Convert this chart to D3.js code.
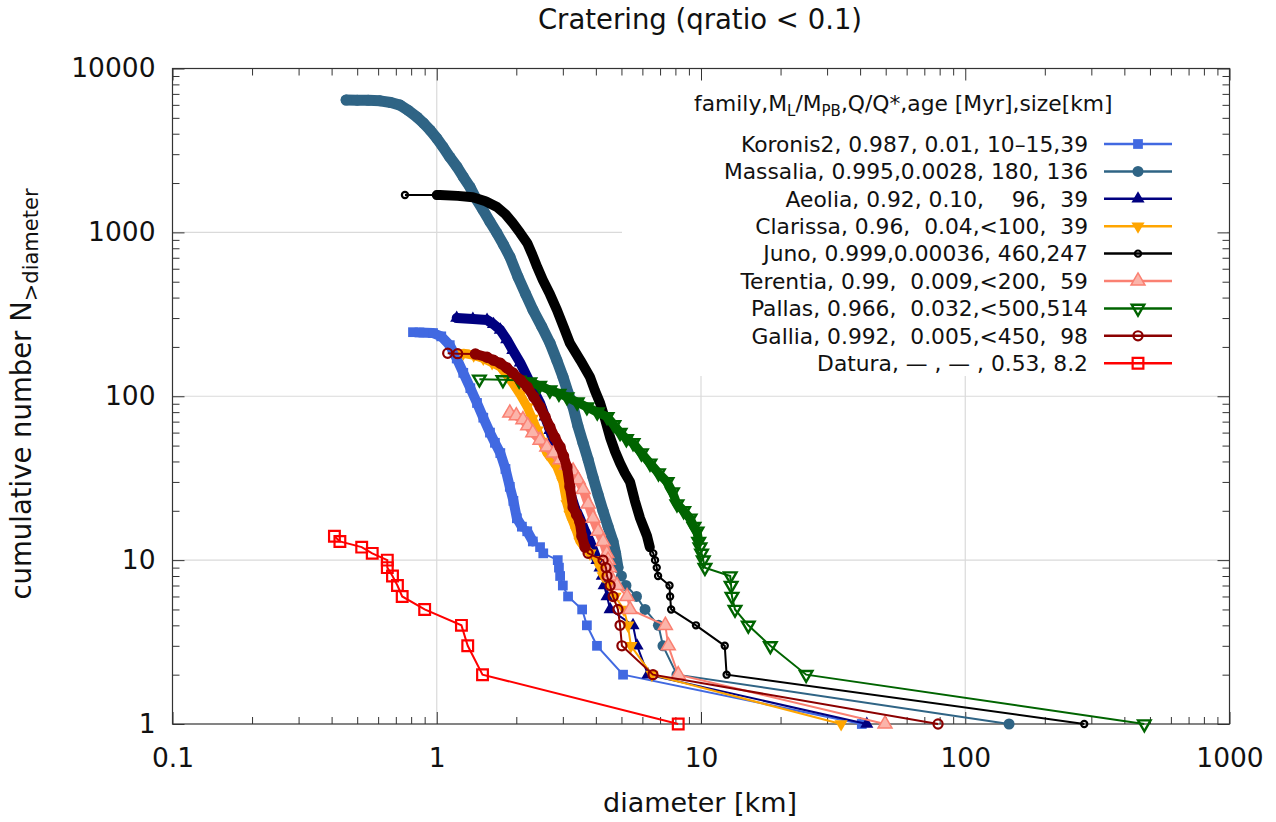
<!DOCTYPE html>
<html><head><meta charset="utf-8">
<script src="https://cdn.jsdelivr.net/npm/d3@7"></script>
<style>body{margin:0;background:#fff} text{font-family:"DejaVu Sans",sans-serif;fill:#111}</style>
</head><body><svg id="c" width="1276" height="822"></svg>
<script>
// ---- data: [diameter km, cumulative number] ----
const koronis2 = [[0.813,246],[0.86,245],[0.968,243],[1.04,232],[1.12,205],[1.19,170],[1.26,139],[1.34,112],[1.42,91],[1.50,74],[1.59,60],[1.66,52],[1.74,45],[1.82,36],[1.89,28],[1.95,23],[2.01,18],[2.10,16],[2.20,15],[2.31,13],[2.46,12],[2.53,11],[2.87,10],[2.9,9],[2.93,8],[3.0,7],[3.14,6],[3.55,5],[3.70,4],[4.04,3],[5.07,2],[40.6,1]];
const massalia = [[0.454,6420],[0.50,6410],[0.55,6400],[0.61,6350],[0.67,6200],[0.726,5980],[0.78,5550],[0.842,5050],[0.89,4650],[0.943,4210],[1.0,3750],[1.056,3320],[1.12,2880],[1.193,2510],[1.26,2180],[1.336,1890],[1.41,1600],[1.496,1370],[1.59,1160],[1.69,990],[1.79,840],[1.893,708],[2.03,534],[2.17,420],[2.313,336],[2.50,265],[2.683,211],[2.85,165],[3.005,131],[3.14,105],[3.279,86],[3.42,66],[3.576,52],[3.74,41],[3.902,32],[4.08,25],[4.257,20],[4.45,16],[4.645,13],[4.75,11],[4.85,9],[5.0,8],[5.2,7],[5.7,6],[6.14,5],[6.9,4],[7.18,3],[8.11,2],[146.5,1]];
const aeolia = [[1.19,300],[1.37,296],[1.55,292],[1.64,275],[1.74,254],[1.84,222],[1.94,191],[2.07,160],[2.20,131],[2.33,108],[2.46,91],[2.57,75],[2.68,62],[2.80,50],[2.93,41],[3.06,32],[3.19,26],[3.33,21],[3.48,18],[3.64,15],[3.80,13],[4.04,10],[4.15,9],[4.23,8],[4.3,7],[4.41,6],[4.53,5],[5.53,4],[5.73,3],[6.30,2],[42.4,1]];
const clarissa = [[1.26,183],[1.38,178],[1.50,170],[1.62,160],[1.74,151],[1.84,135],[1.94,120],[2.07,102],[2.20,86],[2.30,73],[2.40,62],[2.50,53],[2.61,45],[2.73,41],[2.85,37],[3.0,30],[3.11,22],[3.19,19],[3.28,17],[3.38,15],[3.48,13],[3.8,11],[4.04,10],[4.15,9],[4.26,8],[4.53,7],[4.73,6],[5.11,5],[5.29,4],[5.43,3],[6.52,2],[33.9,1]];
const juno = [[0.758,1690],[1.0,1690],[1.03,1688],[1.20,1670],[1.37,1640],[1.53,1550],[1.69,1430],[1.82,1290],[1.94,1140],[2.07,990],[2.20,860],[2.30,730],[2.40,614],[2.52,512],[2.68,420],[2.85,336],[3.02,265],[3.19,211],[3.50,165],[3.80,131],[3.97,108],[4.15,91],[4.34,72],[4.53,56],[4.73,46],[4.94,39],[5.15,34],[5.39,30],[5.62,23],[5.88,18],[6.05,16],[6.25,14],[6.4,12],[6.6,11],[6.7,10],[6.8,9],[6.88,8],[7.6,7],[7.64,6],[7.71,5],[9.57,4],[12.3,3],[12.5,2],[282,1]];
const terentia = [[1.89,79],[2.0,76],[2.12,72],[2.21,66],[2.31,60],[2.46,54],[2.61,49],[2.77,45],[2.93,41],[3.1,38],[3.28,35],[3.43,31],[3.58,27],[3.74,22],[3.90,18],[4.08,15],[4.26,13],[4.40,11],[4.45,10],[4.50,9],[4.53,8],[4.81,7],[5.25,6],[5.39,5],[7.33,4],[7.52,3],[8.2,2],[49.7,1]];
const pallas = [[1.45,127],[1.78,126],[2.05,125],[2.25,122],[2.45,116],[2.68,109],[2.9,104],[3.11,99],[3.40,92],[3.70,86],[4.05,80],[4.41,75],[4.68,67],[4.94,60],[5.22,55],[5.53,52],[5.95,45],[6.41,39],[6.90,34],[7.44,30],[7.80,26],[8.11,22],[8.60,20],[9.09,18],[9.40,16],[9.66,15],[9.8,13],[9.91,12],[10.05,11],[10.2,10],[10.35,9],[12.9,8],[13.0,7],[13.1,6],[13.45,5],[15.1,4],[18.3,3],[25.0,2],[476,1]];
const gallia = [[1.10,183],[1.20,182],[1.40,181],[1.55,173],[1.64,166],[1.74,159],[1.84,149],[1.94,139],[2.07,126],[2.20,114],[2.33,99],[2.46,86],[2.57,75],[2.68,65],[2.80,56],[2.93,49],[3.02,43],[3.11,37],[3.19,28],[3.28,21],[3.38,19],[3.48,17],[3.54,14],[3.64,12],[3.74,11],[4.26,10],[4.37,9],[4.41,8],[4.53,7],[4.65,6],[4.85,5],[4.94,4],[5.02,3],[6.58,2],[78.9,1]];
const datura = [[0.41,14],[0.43,13],[0.52,12],[0.57,11],[0.65,10],[0.65,9],[0.68,8],[0.71,7],[0.74,6],[0.90,5],[1.24,4],[1.31,3],[1.49,2],[8.2,1]];

const legendLabels = [
  "Koronis2, 0.987, 0.01, 10\u201315,39",
  "Massalia, 0.995,0.0028, 180, 136",
  "Aeolia, 0.92, 0.10,    96,  39",
  "Clarissa, 0.96,  0.04,<100,  39",
  "Juno, 0.999,0.00036, 460,247",
  "Terentia, 0.99,  0.009,<200,  59",
  "Pallas, 0.966,  0.032,<500,514",
  "Gallia, 0.992,  0.005,<450,  98",
  "Datura, \u2014 , \u2014 , 0.53, 8.2"
];
const xTickValues = [0.1, 1, 10, 100, 1000];
const yTickValues = [1, 10, 100, 1000, 10000];

const seriesData = [koronis2, massalia, aeolia, clarissa, juno, terentia, pallas, gallia, datura];
const styles = [
  {color:"#4169e1", sym:"square", size:95, fill:true, sw:0, band:10},
  {color:"#2f6485", sym:"circle", size:95, fill:true, sw:0, band:11},
  {color:"#000080", sym:"triangle", size:75, fill:true, sw:0, band:10},
  {color:"#ffa500", sym:"tridown", size:75, fill:true, sw:0, band:9},
  {color:"#000000", sym:"circle", size:30, fill:false, sw:2.2, band:10},
  {color:"#fa8072", sym:"triangle", size:85, fill:"#fbb4aa", sw:1.5, band:9},
  {color:"#006400", sym:"tridown", size:68, fill:false, sw:2.4, band:9},
  {color:"#8b0000", sym:"circle", size:65, fill:false, sw:2.2, band:10},
  {color:"#ff0000", sym:"square", size:115, fill:false, sw:2.2, band:0}
];

const svg = d3.select("#c");
const L = 172.5, R = 1229.5, T = 68.5, B = 724;
const x = d3.scaleLog().domain([0.1, 1000]).range([L, R]);
const y = d3.scaleLog().domain([1, 10000]).range([B, T]);

function minorTicks(dom){
  const out=[]; for(let e=Math.log10(dom[0]); e<Math.log10(dom[1]); e++){ for(let k=2;k<=9;k++) out.push(k*Math.pow(10,e)); } return out;
}
const xMinor = minorTicks([0.1,1000]);
const yMinor = minorTicks([1,10000]);

// grid
const grid = svg.append("g").attr("stroke","#dadada").attr("stroke-width",1.2);
xTickValues.slice(1,-1).forEach(v=>grid.append("line").attr("x1",x(v)).attr("x2",x(v)).attr("y1",T).attr("y2",B));
yTickValues.slice(1,-1).forEach(v=>grid.append("line").attr("x1",L).attr("x2",R).attr("y1",y(v)).attr("y2",y(v)));

// legend background (covers grid)
svg.append("rect").attr("x",622).attr("y",70).attr("width",605).attr("height",306).attr("fill","#fff");

// axes
function styleAxis(g){ g.select(".domain").remove(); g.selectAll("line").attr("stroke","#333").attr("stroke-width",1); g.selectAll("text").style("font-family","DejaVu Sans").style("font-size","26.5px").attr("fill","#111"); }
svg.append("g").attr("transform",`translate(0,${B})`).call(d3.axisBottom(x).tickValues(xTickValues).tickFormat(d3.format("~g")).tickSize(-12).tickPadding(24)).call(styleAxis);
svg.append("g").attr("transform",`translate(0,${B})`).call(d3.axisBottom(x).tickValues(xMinor).tickFormat("").tickSize(-7)).call(styleAxis);
svg.append("g").attr("transform",`translate(0,${T})`).call(d3.axisTop(x).tickValues(xTickValues).tickFormat("").tickSize(-12)).call(styleAxis);
svg.append("g").attr("transform",`translate(0,${T})`).call(d3.axisTop(x).tickValues(xMinor).tickFormat("").tickSize(-7)).call(styleAxis);
svg.append("g").attr("transform",`translate(${L},0)`).call(d3.axisLeft(y).tickValues(yTickValues).tickFormat(d3.format("d")).tickSize(-12).tickPadding(17)).call(styleAxis);
svg.append("g").attr("transform",`translate(${L},0)`).call(d3.axisLeft(y).tickValues(yMinor).tickFormat("").tickSize(-7)).call(styleAxis);
svg.append("g").attr("transform",`translate(${R},0)`).call(d3.axisRight(y).tickValues(yTickValues).tickFormat("").tickSize(-12)).call(styleAxis);
svg.append("g").attr("transform",`translate(${R},0)`).call(d3.axisRight(y).tickValues(yMinor).tickFormat("").tickSize(-7)).call(styleAxis);
svg.append("rect").attr("x",L).attr("y",T).attr("width",R-L).attr("height",B-T).attr("fill","none").attr("stroke","#333").attr("stroke-width",1.2);

function symPath(s, size){
  if(s==="square") return d3.symbol(d3.symbolSquare, size)();
  if(s==="circle") return d3.symbol(d3.symbolCircle, size)();
  return d3.symbol(d3.symbolTriangle, size)();
}
function drawMarker(g, st, px, py){
  const p = g.append("path").attr("d", symPath(st.sym, st.size))
    .attr("transform", `translate(${px},${py})` + (st.sym==="tridown" ? " rotate(180)" : ""));
  if(st.fill===true){ p.attr("fill", st.color).attr("stroke","none"); }
  else { p.attr("fill", st.fill ? st.fill : "none").attr("stroke", st.color).attr("stroke-width", st.sw); }
}
const line = d3.line().x(d=>x(d[0])).y(d=>y(d[1]));

// draw series in order (later series on top)
seriesData.forEach((data,i)=>{
  const st = styles[i];
  const g = svg.append("g");
  g.append("path").attr("d", line(data)).attr("fill","none").attr("stroke", st.color).attr("stroke-width",2);
  // runs where the cumulative count drops by >1 between listed points are densely populated: draw as a marker band
  if(st.band>0){
    let run=[];
    const flush=()=>{ if(run.length>1) g.append("path").attr("d",line(run)).attr("fill","none").attr("stroke",st.color)
        .attr("stroke-width",st.band).attr("stroke-linecap","round").attr("stroke-linejoin","round"); run=[]; };
    for(let k=0;k<data.length-1;k++){
      const a=data[k], b=data[k+1];
      if(a[1]-b[1]>=2){ if(run.length===0) run.push(a); run.push(b); } else flush();
    }
    flush();
  }
  data.forEach(d=>drawMarker(g, st, x(d[0]), y(d[1])));
});

// legend
const lg = svg.append("g");
const head = lg.append("text").attr("x",694).attr("y",111).style("font-size","21.8px");
head.append("tspan").text("family,M");
head.append("tspan").attr("dy",5).style("font-size","15px").text("L");
head.append("tspan").attr("dy",-5).text("/M");
head.append("tspan").attr("dy",5).style("font-size","15px").text("PB");
head.append("tspan").attr("dy",-5).text(",Q/Q*,age [Myr],size[km]");
legendLabels.forEach((lab,i)=>{
  const yy = 144 + i*27.4;
  lg.append("text").attr("x",1088).attr("y",yy).attr("dy","0.36em").attr("text-anchor","end")
    .style("font-size","21.8px").style("white-space","pre").text(lab);
  lg.append("line").attr("x1",1104).attr("x2",1172).attr("y1",yy).attr("y2",yy).attr("stroke",styles[i].color).attr("stroke-width",2.5);
  drawMarker(lg, styles[i], 1138, yy);
});

// titles
svg.append("text").attr("x",700).attr("y",29).attr("text-anchor","middle").style("font-size","27.5px").text("Cratering (qratio < 0.1)");
svg.append("text").attr("x",700).attr("y",812).attr("text-anchor","middle").style("font-size","27px").text("diameter [km]");
const yl = svg.append("text").attr("transform","translate(31,394) rotate(-90)").attr("text-anchor","middle").style("font-size","27.5px");
yl.append("tspan").text("cumulative number N");
yl.append("tspan").attr("dy",7).style("font-size","21px").text(">diameter");
</script></body></html>
